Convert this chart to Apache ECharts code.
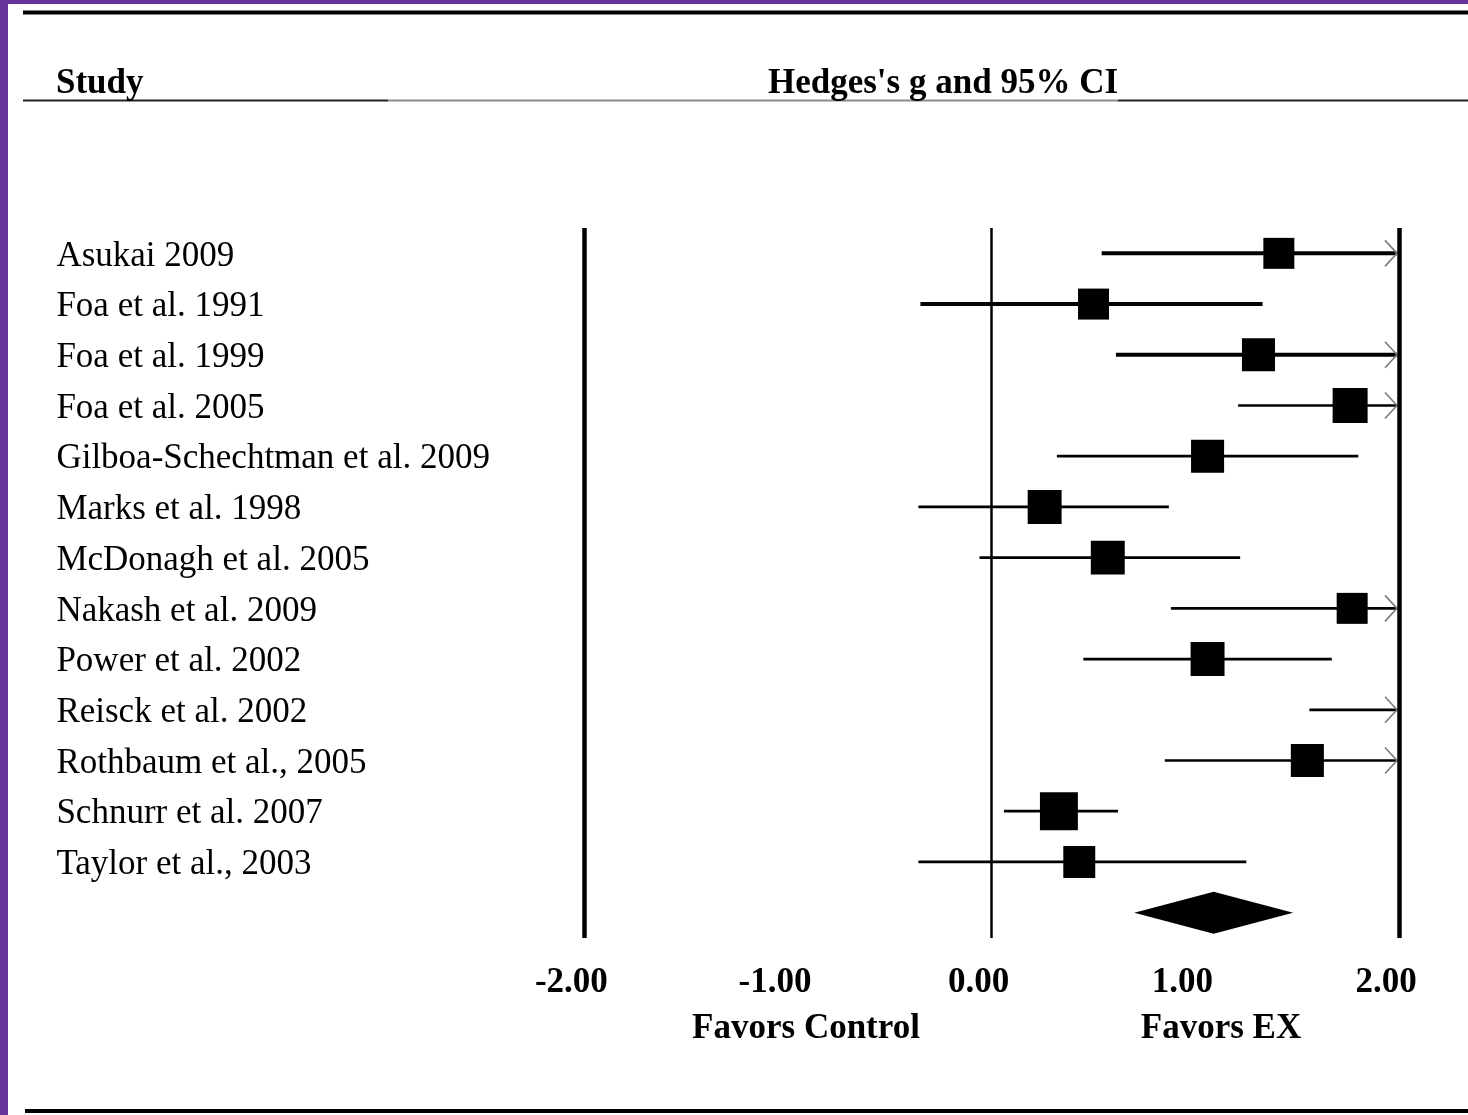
<!DOCTYPE html>
<html>
<head>
<meta charset="utf-8">
<title>Hedges's g forest plot</title>
<script src="https://cdn.jsdelivr.net/npm/echarts@6/dist/echarts.min.js"></script>
<style>
  html, body { margin: 0; padding: 0; background: #fff; }
  #chart { width: 1468px; height: 1115px; }
</style>
</head>
<body>
<div id="chart"></div>
<script>
const studies = [
  'Asukai 2009',
  'Foa et al. 1991',
  'Foa et al. 1999',
  'Foa et al. 2005',
  'Gilboa-Schechtman et al. 2009',
  'Marks et al. 1998',
  'McDonagh et al. 2005',
  'Nakash et al. 2009',
  'Power et al. 2002',
  'Reisck et al. 2002',
  'Rothbaum et al., 2005',
  'Schnurr et al. 2007',
  'Taylor et al., 2003'
];
// Hedges's g with 95% CI (values above 2 run off the plotted range)
const effect = [1.41, 0.50, 1.31, 1.76, 1.06, 0.26, 0.57, 1.77, 1.06, 2.45, 1.55, 0.33, 0.43];
const lower  = [0.54, -0.35, 0.61, 1.21, 0.32, -0.36, -0.06, 0.88, 0.45, 1.56, 0.85, 0.06, -0.36];
const upper  = [2.27, 1.33, 2.01, 2.31, 1.80, 0.87, 1.22, 2.65, 1.67, 3.34, 2.24, 0.62, 1.25];
const weights = [8.0, 8.0, 9.1, 10.2, 9.1, 9.6, 9.6, 8.0, 9.6, 7.0, 9.1, 12.0, 8.5];
const summary = [1.09, 0.70, 1.48]; // point, lower, upper
const xTicks = [-2, -1, 0, 1, 2];

const X_MIN = xTicks[0];
const X_MAX = xTicks[xTicks.length - 1];
const FONT = "'Liberation Serif', 'Times New Roman', serif";

const chart = echarts.init(document.getElementById('chart'));

const studyData = studies.map((s, i) => [i, effect[i], lower[i], upper[i], weights[i]]);

const renderStudy = (params, api) => {
  const row = api.value(0);
  const g = api.value(1);
  const lo = Math.max(api.value(2), X_MIN);
  const hi = api.value(3);
  const [xLo, yc] = api.coord([lo, row]);
  const xHi = api.coord([Math.min(hi, X_MAX), row])[0];
  const lw = params.dataIndex < 3 ? 4 : 2.7;
  const children = [
    {
      type: 'line',
      shape: { x1: xLo, y1: yc, x2: xHi - (hi > X_MAX ? 2 : 0), y2: yc },
      style: { stroke: '#000', lineWidth: lw }
    }
  ];
  if (g <= X_MAX) {
    const size = Math.sqrt(api.value(4) * 120);
    const xc = api.coord([g, row])[0];
    children.push({
      type: 'rect',
      shape: { x: xc - size / 2, y: yc - size / 2, width: size, height: size },
      style: { fill: '#000' }
    });
  }
  if (hi > X_MAX) {
    children.push({
      type: 'polyline',
      shape: { points: [[xHi - 14, yc - 13], [xHi - 2, yc], [xHi - 14, yc + 13]] },
      style: { stroke: '#7a7a7a', fill: null, lineWidth: 1.6 }
    });
  }
  return { type: 'group', children };
};

const renderDiamond = (params, api) => {
  const row = api.value(0);
  const [xc, yc] = api.coord([api.value(1), row]);
  const xl = api.coord([api.value(2), row])[0];
  const xr = api.coord([api.value(3), row])[0];
  return {
    type: 'polygon',
    shape: { points: [[xl, yc], [xc, yc - 21], [xr, yc], [xc, yc + 21]] },
    style: { fill: '#000' }
  };
};

const option = {
  animation: false,
  backgroundColor: '#fff',
  grid: { left: 584.4, right: 69, top: 228, bottom: 177, containLabel: false },
  xAxis: {
    type: 'value',
    min: X_MIN,
    max: X_MAX,
    interval: 1,
    axisLine: { show: false },
    axisTick: { show: false },
    splitLine: { show: false },
    axisLabel: {
      formatter: v => v.toFixed(2),
      color: '#000',
      fontFamily: FONT,
      fontWeight: 'bold',
      fontSize: 35,
      margin: 27,
      padding: [0, 26, 0, 0]
    }
  },
  yAxis: {
    type: 'category',
    inverse: true,
    data: [...studies, ''],
    axisLine: { show: false },
    axisTick: { show: false },
    splitLine: { show: false },
    axisLabel: {
      align: 'left',
      margin: 528,
      formatter: v => (v ? '{s|' + v + '}' : ''),
      rich: {
        s: {
          color: '#000',
          fontFamily: FONT,
          fontSize: 35,
          padding: [6, 0, 0, 0]
        }
      }
    }
  },
  series: [
    {
      name: 'Summary',
      type: 'custom',
      renderItem: renderDiamond,
      encode: { y: 0, x: [1, 2, 3] },
      data: [[studies.length, ...summary]],
      markLine: {
        silent: true,
        symbol: 'none',
        label: { show: false },
        lineStyle: { color: '#000', type: 'solid' },
        data: [
          { xAxis: -2, lineStyle: { width: 4.5 } },
          { xAxis: 0, lineStyle: { width: 2.5 } },
          { xAxis: 2, lineStyle: { width: 4.5 } }
        ]
      },
      z: 3
    },
    {
      name: 'Studies',
      type: 'custom',
      renderItem: renderStudy,
      encode: { y: 0, x: [1, 2, 3] },
      data: studyData,
      z: 4
    }
  ],
  graphic: [
    // purple frame
    { type: 'rect', shape: { x: 0, y: 0, width: 1468, height: 4 }, style: { fill: '#663399' } },
    { type: 'rect', shape: { x: 0, y: 0, width: 8, height: 1115 }, style: { fill: '#663399' } },
    // rules
    { type: 'line', shape: { x1: 23, y1: 12.5, x2: 1468, y2: 12.5 }, style: { stroke: '#000', lineWidth: 4 } },
    { type: 'line', shape: { x1: 23, y1: 100.5, x2: 388, y2: 100.5 }, style: { stroke: '#222', lineWidth: 2 } },
    { type: 'line', shape: { x1: 388, y1: 100.5, x2: 1118, y2: 100.5 }, style: { stroke: '#8a8a8a', lineWidth: 2 } },
    { type: 'line', shape: { x1: 1118, y1: 100.5, x2: 1468, y2: 100.5 }, style: { stroke: '#222', lineWidth: 2 } },
    { type: 'line', shape: { x1: 25, y1: 1111, x2: 1468, y2: 1111 }, style: { stroke: '#000', lineWidth: 4 } },
    // header texts
    {
      type: 'text', x: 56, y: 84,
      style: { text: 'Study', font: 'bold 35px ' + FONT, fill: '#000', textAlign: 'left', textVerticalAlign: 'middle' }
    },
    {
      type: 'text', x: 943, y: 84,
      style: { text: "Hedges's g and 95% CI", font: 'bold 35px ' + FONT, fill: '#000', textAlign: 'center', textVerticalAlign: 'middle' }
    },
    {
      type: 'text', x: 806, y: 1029,
      style: { text: 'Favors Control', font: 'bold 35px ' + FONT, fill: '#000', textAlign: 'center', textVerticalAlign: 'middle' }
    },
    {
      type: 'text', x: 1221, y: 1029,
      style: { text: 'Favors EX', font: 'bold 35px ' + FONT, fill: '#000', textAlign: 'center', textVerticalAlign: 'middle' }
    }
  ]
};

chart.setOption(option);
</script>
</body>
</html>
